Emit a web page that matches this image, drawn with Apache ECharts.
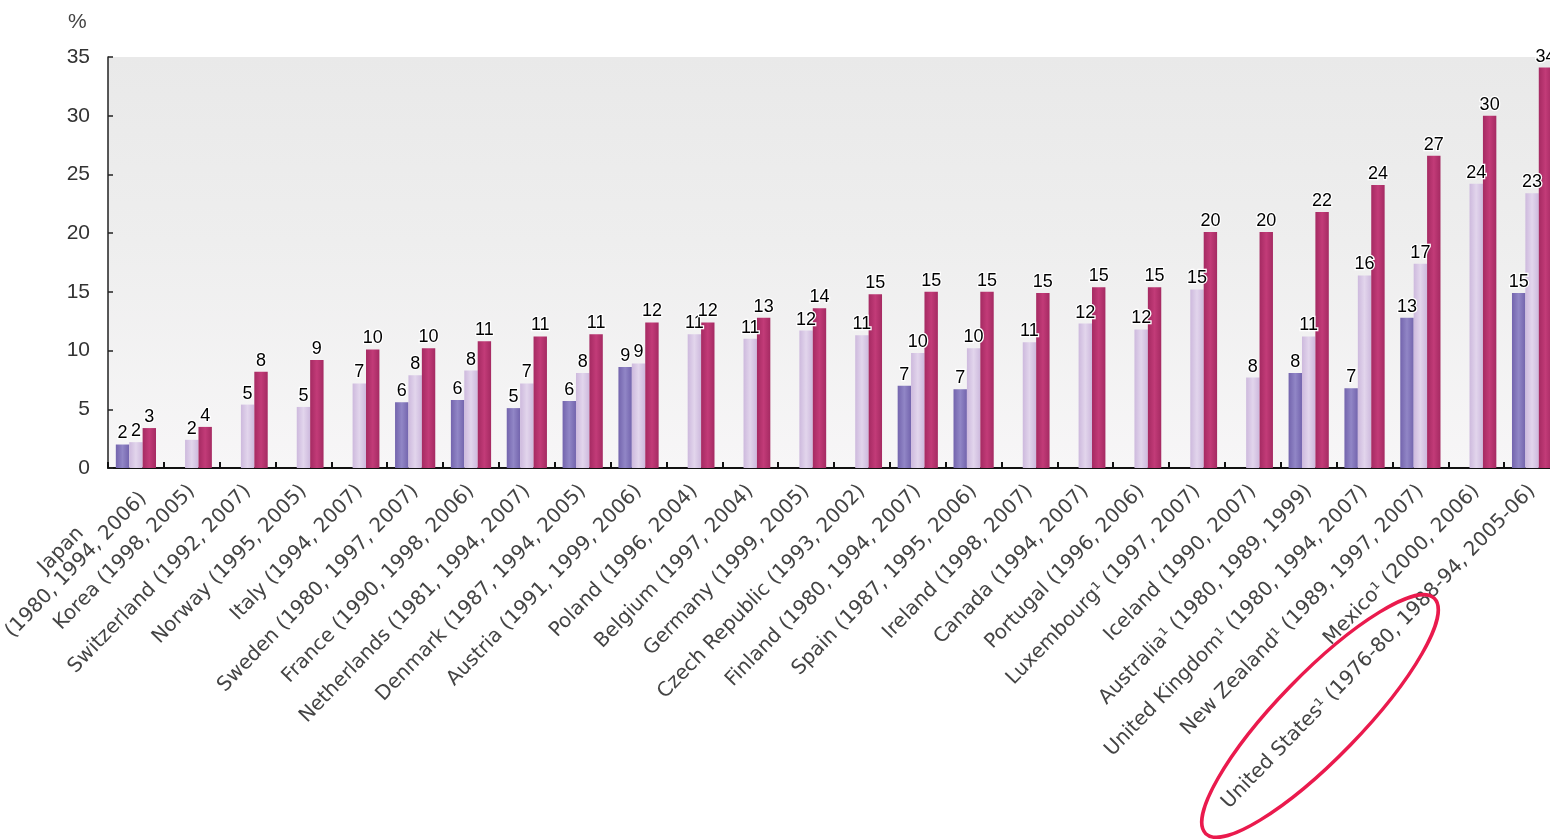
<!DOCTYPE html>
<html>
<head>
<meta charset="utf-8">
<script src="https://cdn.jsdelivr.net/npm/echarts@6/dist/echarts.min.js"></script>
<style>
html,body{margin:0;padding:0;background:#fff;}
#chart{width:1550px;height:839px;}
</style>
</head>
<body>
<div id="chart"></div>
<script>
var categories = [
  "Japan\n(1980, 1994, 2006)",
  "Korea (1998, 2005)",
  "Switzerland (1992, 2007)",
  "Norway (1995, 2005)",
  "Italy (1994, 2007)",
  "Sweden (1980, 1997, 2007)",
  "France (1990, 1998, 2006)",
  "Netherlands (1981, 1994, 2007)",
  "Denmark (1987, 1994, 2005)",
  "Austria (1991, 1999, 2006)",
  "Poland (1996, 2004)",
  "Belgium (1997, 2004)",
  "Germany (1999, 2005)",
  "Czech Republic (1993, 2002)",
  "Finland (1980, 1994, 2007)",
  "Spain (1987, 1995, 2006)",
  "Ireland (1998, 2007)",
  "Canada (1994, 2007)",
  "Portugal (1996, 2006)",
  "Luxembourg\u00b9 (1997, 2007)",
  "Iceland (1990, 2007)",
  "Australia\u00b9 (1980, 1989, 1999)",
  "United Kingdom\u00b9 (1980, 1994, 2007)",
  "New Zealand\u00b9 (1989, 1997, 2007)",
  "Mexico\u00b9 (2000, 2006)",
  "United States\u00b9 (1976-80, 1988-94, 2005-06)"
];
var earliest = [2.0, null, null, null, null, 5.6, 5.8, 5.1, 5.7, 8.6, null, null, null, null, 7.0, 6.7, null, null, null, null, null, 8.1, 6.8, 12.8, null, 14.9];
var middle   = [2.2, 2.4, 5.4, 5.2, 7.2, 7.9, 8.3, 7.2, 8.1, 8.9, 11.4, 11.0, 11.7, 11.3, 9.8, 10.2, 10.7, 12.3, 11.8, 15.2, 7.7, 11.2, 16.4, 17.4, 24.2, 23.4];
var latest   = [3.4, 3.5, 8.2, 9.2, 10.1, 10.2, 10.8, 11.2, 11.4, 12.4, 12.4, 12.8, 13.6, 14.8, 15.0, 15.0, 14.9, 15.4, 15.4, 20.1, 20.1, 21.8, 24.1, 26.6, 30.0, 34.1];
var yTicks = [0, 5, 10, 15, 20, 25, 30, 35];

function hgrad(edge, mid) {
  return new echarts.graphic.LinearGradient(0, 0, 1, 0, [
    {offset: 0, color: edge}, {offset: 0.5, color: mid}, {offset: 1, color: edge}
  ]);
}
var labelCfg = {
  show: true, position: 'top', distance: 2,
  color: '#000', fontSize: 18, fontFamily: '"Liberation Sans Narrow", "Liberation Sans", Arial, sans-serif',
  textBorderColor: '#ffffff', textBorderWidth: 2.5,
  formatter: function (p) { return p.value == null ? '' : String(Math.round(p.value)); }
};
var xFont = '"DejaVu Sans", Verdana, sans-serif';

var chart = echarts.init(document.getElementById('chart'));
chart.setOption({
  animation: false,
  backgroundColor: '#ffffff',
  grid: {
    left: 108, right: -10, top: 57, bottom: 371,
    outerBoundsMode: 'none', containLabel: false,
    show: true, borderWidth: 0,
    backgroundColor: new echarts.graphic.LinearGradient(0, 0, 0, 1, [
      {offset: 0, color: '#e9e9e9'}, {offset: 0.45, color: '#eeeeee'}, {offset: 1, color: '#f7f6f7'}
    ])
  },
  xAxis: {
    type: 'category',
    data: categories,
    axisLine: {show: true, lineStyle: {color: '#111', width: 2}},
    axisTick: {show: true, inside: true, length: 6, interval: 0, lineStyle: {color: '#111', width: 2}},
    axisLabel: {
      interval: 0, rotate: 46, margin: 20, hideOverlap: false,
      color: '#444', fontSize: 20, fontFamily: xFont, lineHeight: 21,
      formatter: function (v) {
        return v.indexOf('\n') >= 0 ? v.split('\n').map(function (s) { return '{c|' + s + '}'; }).join('\n') : v;
      },
      rich: {c: {align: 'center', fontSize: 20, fontFamily: xFont, color: '#444', lineHeight: 21}}
    },
    splitLine: {show: false}
  },
  yAxis: {
    type: 'value', min: 0, max: 35, interval: 5,
    axisLine: {show: true, lineStyle: {color: '#222', width: 1.5}},
    axisTick: {show: true, inside: true, length: 5, lineStyle: {color: '#222', width: 1.5}},
    axisLabel: {
      margin: 18, color: '#333', fontSize: 21, fontFamily: '"Liberation Sans", Arial, sans-serif',
      formatter: function (v) { return yTicks.indexOf(v) >= 0 ? String(v) : ''; }
    },
    splitLine: {show: false}
  },
  graphic: [
    {type: 'text', left: 68, top: 12, style: {text: '%', fontSize: 21, fill: '#444', fontFamily: '"Liberation Sans", Arial, sans-serif'}},
    {type: 'ellipse', x: 1320, y: 716, rotation: 0.80,
     shape: {cx: 0, cy: 0, rx: 164, ry: 42},
     style: {fill: 'none', stroke: '#ea1a4d', lineWidth: 3.5}, z: 100}
  ],
  series: [
    {name: 'earliest', type: 'bar', data: earliest, barGap: '0%', barCategoryGap: '28%',
     itemStyle: {color: hgrad('#7364ad', '#9186c6')}, label: labelCfg},
    {name: 'middle', type: 'bar', data: middle, barGap: '0%', barCategoryGap: '28%',
     itemStyle: {color: hgrad('#cdb9dd', '#e2d5ec')}, label: labelCfg},
    {name: 'latest', type: 'bar', data: latest, barGap: '0%', barCategoryGap: '28%',
     itemStyle: {color: hgrad('#a52a62', '#c23b78')}, label: labelCfg}
  ]
});
</script>
</body>
</html>
